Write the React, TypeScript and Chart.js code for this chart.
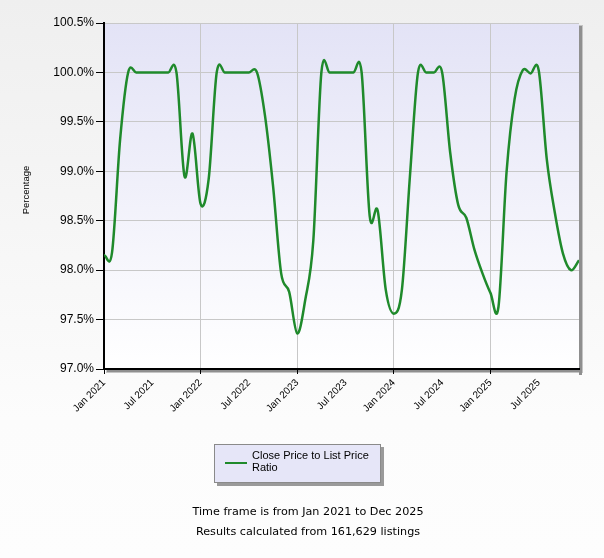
import React, { useEffect, useRef } from "react";
import { Chart, registerables } from "chart.js";
Chart.register(...registerables);

// Monthly Close Price to List Price ratio, Jan 2021 .. Dec 2025
const monthIndex = Array.from({ length: 60 }, (_, i) => i);
const ratio = [
  98.15, 98.18, 99.32, 100.0, 100.0, 100.0, 100.0, 100.0, 100.0, 100.0, 98.95, 99.38,
  98.67, 98.92, 100.0, 100.0, 100.0, 100.0, 100.0, 100.0, 99.56, 98.85, 97.97, 97.78,
  97.36, 97.7, 98.3, 100.0, 100.0, 100.0, 100.0, 100.0, 100.0, 98.55, 98.6, 97.8,
  97.56, 97.8, 98.95, 100.0, 100.0, 100.0, 100.0, 99.19, 98.66, 98.53, 98.21, 97.97,
  97.77, 97.63, 98.99, 99.73, 100.02, 99.99, 100.02, 99.12, 98.58, 98.17, 98.0, 98.1,
];
const xTickValues = [0, 6, 12, 18, 24, 30, 36, 42, 48, 54];
const xTickLabels = [
  "Jan 2021", "Jul 2021", "Jan 2022", "Jul 2022", "Jan 2023",
  "Jul 2023", "Jan 2024", "Jul 2024", "Jan 2025", "Jul 2025",
];
const yMin = 97.0;
const yMax = 100.5;
const yStep = 0.5;
const yTitle = "Percentage";
const seriesName = "Close Price to List Price Ratio";
const footerLines = [
  "Time frame is from Jan 2021 to Dec 2025",
  "Results calculated from 161,629 listings",
];

const LINE_COLOR = "#1f8a2b";

const bgPlugin = {
  id: "bgPlugin",
  beforeDraw(chart: any) {
    const { ctx, chartArea: a, width, height } = chart;
    ctx.save();
    const g = ctx.createLinearGradient(0, 0, 0, height);
    g.addColorStop(0, "#efefef");
    g.addColorStop(0.75, "#fcfcfc");
    g.addColorStop(1, "#fdfdfd");
    ctx.fillStyle = g;
    ctx.fillRect(0, 0, width, height);
    // shadow
    ctx.fillStyle = "#c4c4c4";
    ctx.fillRect(a.right, a.top + 2, 4, a.bottom - a.top + 2);
    ctx.fillRect(a.left + 2, a.bottom, a.right - a.left + 2, 4);
    ctx.fillStyle = "#8f8f8f";
    ctx.fillRect(a.right, a.top + 3, 3, a.bottom - a.top + 3);
    ctx.fillRect(a.left + 3, a.bottom, a.right - a.left, 3);
    // plot gradient
    const pg = ctx.createLinearGradient(0, a.top, 0, a.bottom);
    pg.addColorStop(0, "#e3e3f6");
    pg.addColorStop(1, "#ffffff");
    ctx.fillStyle = pg;
    ctx.fillRect(a.left, a.top, a.right - a.left, a.bottom - a.top);
    ctx.strokeStyle = "#c8c8c8";
    ctx.lineWidth = 1;
    ctx.beginPath();
    ctx.moveTo(a.left, a.top + 0.5);
    ctx.lineTo(a.right, a.top + 0.5);
    ctx.stroke();
    // y axis title
    ctx.translate(26, 190);
    ctx.rotate(-Math.PI / 2);
    ctx.fillStyle = "#000";
    ctx.font = "9.5px 'Liberation Sans'";
    ctx.textAlign = "center";
    ctx.textBaseline = "middle";
    ctx.fillText(yTitle, 0, 0);
    ctx.restore();
  },
};

// Uniform Catmull-Rom control points computed from the scaled point elements
const splinePlugin = {
  id: "splinePlugin",
  beforeDatasetsDraw(chart: any) {
    chart.data.datasets.forEach((_: any, di: number) => {
      const meta = chart.getDatasetMeta(di);
      const pts = meta.data;
      const n = pts.length;
      for (let i = 0; i < n; i++) {
        const p = pts[i];
        const prev = pts[Math.max(0, i - 1)];
        const next = pts[Math.min(n - 1, i + 1)];
        const k = i === 0 || i === n - 1 ? 1 / 3 : 1 / 6;
        const dx = (next.x - prev.x) * k;
        const dy = (next.y - prev.y) * k;
        p.cp1x = p.x - dx;
        p.cp1y = p.y - dy;
        p.cp2x = p.x + dx;
        p.cp2y = p.y + dy;
      }
      meta.dataset._pointsUpdated = true;
      meta.dataset._path = undefined;
    });
  },
};

export default function App() {
  const ref = useRef<HTMLCanvasElement>(null);
  useEffect(() => {
    document.body.style.margin = "0";
    const chart = new Chart(ref.current as HTMLCanvasElement, {
      type: "line",
      data: {
        datasets: [
          {
            label: seriesName,
            data: monthIndex.map((m, i) => ({ x: m, y: ratio[i] })),
            borderColor: LINE_COLOR,
            borderWidth: 2.5,
            pointRadius: 0,
            tension: 0.4,
            fill: false,
          },
        ],
      },
      options: {
        animation: false,
        responsive: false,
        devicePixelRatio: 1,
        layout: { padding: { left: 0, top: 23, right: 25, bottom: 0 } },
        plugins: { legend: { display: false }, tooltip: { enabled: false } },
        scales: {
          x: {
            type: "linear",
            min: 0,
            max: 59,
            afterBuildTicks: (s: any) => {
              s.ticks = xTickValues.map((v) => ({ value: v }));
            },
            afterFit: (s: any) => {
              s.height = 189;
            },
            ticks: {
              autoSkip: false,
              minRotation: 45,
              maxRotation: 45,
              padding: 3,
              color: "#000",
              font: { family: "Liberation Sans", size: 10 },
              callback: (v: any) => {
                const k = xTickValues.indexOf(Number(v));
                return k >= 0 ? xTickLabels[k] : "";
              },
            },
            grid: {
              color: (c: any) => (c.tick && c.tick.value % 12 === 0 ? "#c8c8c8" : "rgba(0,0,0,0)"),
              tickColor: (c: any) => (c.tick && c.tick.value % 12 === 0 ? "#000" : "rgba(0,0,0,0)"),
              tickLength: 5,
              lineWidth: 1,
            },
            border: { color: "#000", width: 2 },
          },
          y: {
            min: yMin,
            max: yMax,
            afterFit: (s: any) => {
              s.width = 104;
            },
            ticks: {
              stepSize: yStep,
              padding: 2,
              color: "#000",
              font: { family: "Liberation Sans", size: 12 },
              callback: (v: any) => Number(v).toFixed(1) + "%",
            },
            grid: { color: "#c8c8c8", tickColor: "#000", tickLength: 8, lineWidth: 1 },
            border: { color: "#000", width: 2 },
          },
        },
      },
      plugins: [bgPlugin, splinePlugin],
    } as any);
    return () => chart.destroy();
  }, []);

  return (
    <div style={{ position: "absolute", left: 0, top: 0, width: 604, height: 558 }}>
      <canvas ref={ref} width={604} height={558} style={{ display: "block" }} />
      <div
        style={{
          position: "absolute",
          left: 214,
          top: 444,
          width: 165,
          height: 37,
          background: "#e6e6f8",
          border: "1px solid #8a8a8a",
          boxShadow: "3px 3px 0 #9a9a9a",
        }}
      >
        <div style={{ position: "absolute", left: 10, top: 17, width: 22, height: 2, background: LINE_COLOR }} />
        <div
          style={{
            position: "absolute",
            left: 37,
            top: 4,
            width: 125,
            fontFamily: "Liberation Sans",
            fontSize: 11,
            lineHeight: "12px",
            color: "#000",
          }}
        >
          {seriesName}
        </div>
      </div>
      {footerLines.map((t, i) => (
        <div
          key={i}
          style={{
            position: "absolute",
            left: 108,
            width: 400,
            top: 505 + i * 20,
            textAlign: "center",
            fontFamily: "DejaVu Sans",
            fontSize: 11.2,
            color: "#000",
            whiteSpace: "nowrap",
          }}
        >
          {t}
        </div>
      ))}
    </div>
  );
}
